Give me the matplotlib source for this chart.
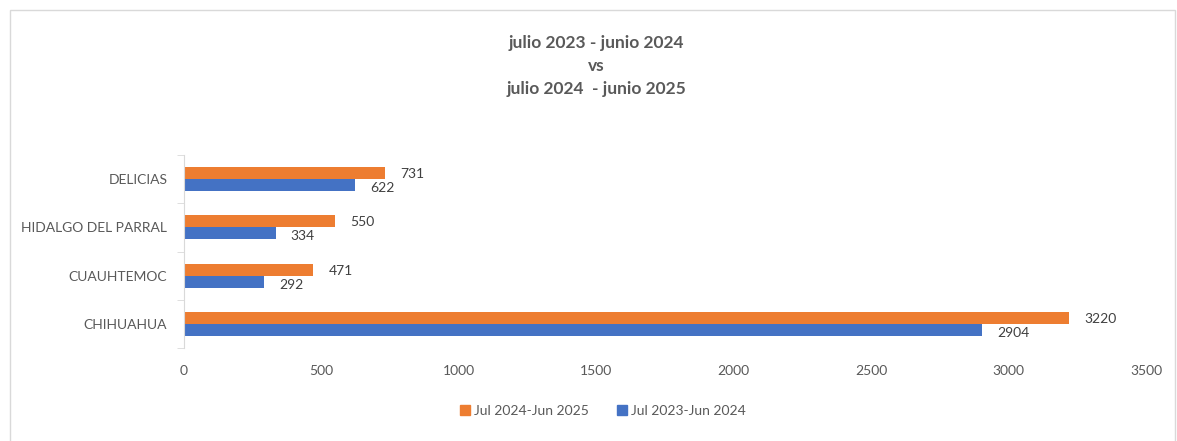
import matplotlib
matplotlib.use("Agg")
import matplotlib.pyplot as plt
from matplotlib.patches import Rectangle, Patch
import numpy as np

categories = ["CHIHUAHUA", "CUAUHTEMOC", "HIDALGO DEL PARRAL", "DELICIAS"]
series_2425 = [3220, 471, 550, 731]
series_2324 = [2904, 292, 334, 622]
label_2425 = "Jul 2024-Jun 2025"
label_2324 = "Jul 2023-Jun 2024"
xticks = [0, 500, 1000, 1500, 2000, 2500, 3000, 3500]
title_lines = ["julio 2023 - junio 2024", "vs", "julio 2024  - junio 2025"]

ORANGE = "#ED7D31"
BLUE = "#4472C4"
GRAY = "#595959"

plt.rcParams['font.family'] = ['Lato', 'DejaVu Sans']

fig = plt.figure(figsize=(11.77, 4.41), dpi=100)
fig.patches.append(Rectangle((10/1177, -0.01), 1 - 12/1177, 1 - 10/441 + 0.01,
                             transform=fig.transFigure, fill=False,
                             edgecolor="#D9D9D9", linewidth=1))

ax = fig.add_axes([184/1177, 1 - 348/441, (1146 - 184)/1177, (348 - 155)/441])
y = np.arange(len(categories))
h = 0.25
b1 = ax.barh(y + h/2, series_2425, height=h, color=ORANGE, label=label_2425)
b2 = ax.barh(y - h/2, series_2324, height=h, color=BLUE, label=label_2324)

for bars, vals, dy in ((b1, series_2425, -1), (b2, series_2324, -3)):
    for rect, v in zip(bars, vals):
        ax.annotate(str(v), (rect.get_width(), rect.get_y() + rect.get_height()/2),
                    xytext=(15, dy), textcoords="offset pixels",
                    ha="left", va="center", fontsize=10, color="#404040")

ax.set_xlim(0, 3500)
ax.set_ylim(-0.5, 3.5)
ax.set_xticks(xticks)
ax.set_xticklabels([str(t) for t in xticks], fontsize=10, color=GRAY)
ax.set_yticks(y)
ax.set_yticklabels(categories, fontsize=10, color=GRAY)
ax.set_yticks(np.arange(-0.5, 3.6, 1), minor=True)
ax.tick_params(axis="y", which="major", length=0, pad=12)
ax.tick_params(axis="y", which="minor", length=5, color="#D9D9D9", direction="out")
ax.tick_params(axis="x", length=0, pad=12)
for s in ("top", "right", "bottom"):
    ax.spines[s].set_visible(False)
ax.spines["left"].set_color("#D9D9D9")

for i, line in enumerate(title_lines):
    fig.text(596/1177, 1 - (43 + 23*i)/441, line, ha="center", va="center",
             fontsize=12.5, fontweight="bold", color=GRAY)

handles = [Patch(color=ORANGE), Patch(color=BLUE)]
fig.legend(handles, [label_2425, label_2324], loc="center",
           bbox_to_anchor=(603/1177, 1 - 411/441), ncol=2, frameon=False,
           fontsize=10, labelcolor=GRAY, handlelength=0.7, handleheight=0.7,
           handletextpad=0.3, columnspacing=2.0)

fig.savefig("out.png", dpi=100)
